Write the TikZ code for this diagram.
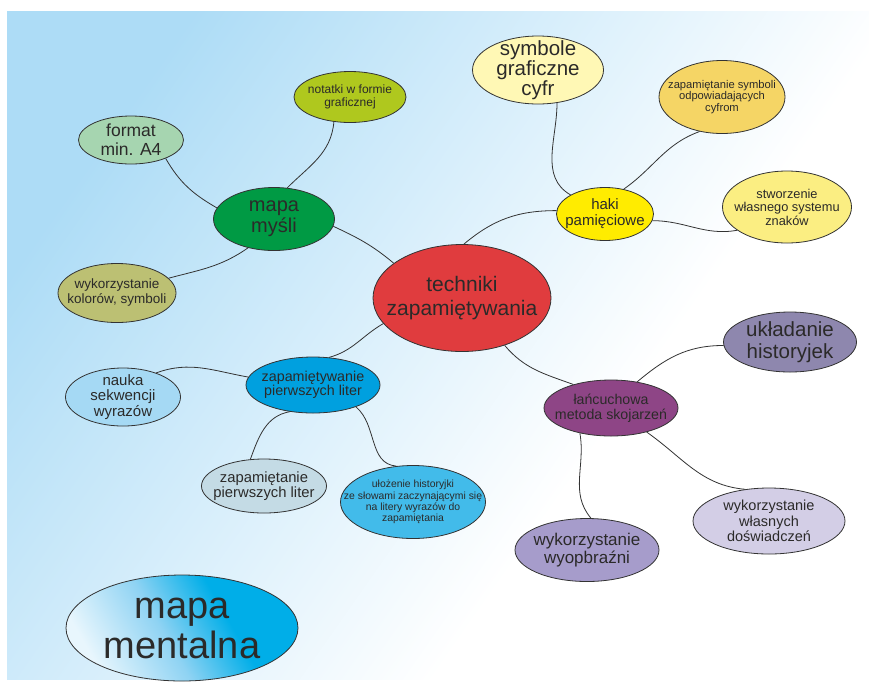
\documentclass[tikz,border=0pt]{standalone}
\usepackage{fontspec}
\setmainfont{Liberation Sans}
\usepackage{xcolor}
\usetikzlibrary{shapes.geometric}

\newcommand{\fsz}[2]{\fontsize{#1}{#2}\selectfont}

\definecolor{bgBlue}{HTML}{ADDCF6}
\definecolor{bgMid}{HTML}{E0F2FC}
\definecolor{lineGray}{HTML}{333333}
\definecolor{txtGray}{HTML}{2B2A29}
\definecolor{cMysli}{HTML}{009A44}
\definecolor{cFormat}{HTML}{A6D5B0}
\definecolor{cNotatki}{HTML}{AFC81E}
\definecolor{cKolory}{HTML}{BCC073}
\definecolor{cTechniki}{HTML}{E03C3E}
\definecolor{cSymbole}{HTML}{FFF8B5}
\definecolor{cZapSym}{HTML}{F5D565}
\definecolor{cHaki}{HTML}{FFEC00}
\definecolor{cStworz}{HTML}{FBEE82}
\definecolor{cUklad}{HTML}{8E87AE}
\definecolor{cLancuch}{HTML}{8E4586}
\definecolor{cWyobraz}{HTML}{A69CCB}
\definecolor{cDoswiad}{HTML}{D3CEE6}
\definecolor{cZapam}{HTML}{00A0DF}
\definecolor{cNauka}{HTML}{A5D9F4}
\definecolor{cZapPierw}{HTML}{C4DBE5}
\definecolor{cUlozenie}{HTML}{42BBEA}
\definecolor{cMental}{HTML}{00AEE8}
\definecolor{cMentalMid}{HTML}{8FD3F3}
\definecolor{cMentalLow}{HTML}{E8F6FD}

% background and title fades
\pgfdeclareverticalshading{bgfade}{100bp}{color(0bp)=(white); color(25bp)=(white); color(38bp)=(white); color(52bp)=(bgMid); color(75bp)=(bgBlue); color(100bp)=(bgBlue)}
\pgfdeclareverticalshading{mentalfade}{100bp}{color(0bp)=(cMentalLow); color(25bp)=(cMentalLow); color(45bp)=(cMentalMid); color(62bp)=(cMental); color(100bp)=(cMental)}

\tikzset{
  bubble/.style={draw=lineGray, line width=0.8pt, ellipse, inner sep=0pt},
  link/.style={draw=lineGray, line width=0.8pt},
  every label/.style={align=center, text=txtGray, inner sep=0pt},
}

\begin{document}
\begin{tikzpicture}[x=1pt, y=-1pt]
    \useasboundingbox (0,0) rectangle (869,686);
    % background
    \shade[shading=bgfade, shading angle=55] (7,11) rectangle (869,679);

    % centre
    \node[bubble, fill=cTechniki, minimum width=178, minimum height=107,
          label={[font=\fsz{21}{24}]center:{techniki\\zapamiętywania}}] (techniki) at (462,298) {};

    % mapa mysli branch
    \node[bubble, fill=cMysli, minimum width=121, minimum height=63,
          label={[font=\fsz{20}{21}]center:{mapa\\myśli}}] (mysli) at (274,219) {};
    \node[bubble, fill=cFormat, minimum width=105, minimum height=48,
          label={[font=\fsz{17.5}{19}]center:{format\\min. A4}}] (format) at (131,140) {};
    \node[bubble, fill=cNotatki, minimum width=112, minimum height=51,
          label={[font=\fsz{12}{13.5}]center:{notatki w formie\\graficznej}}] (notatki) at (350,97) {};
    \node[bubble, fill=cKolory, minimum width=118, minimum height=59,
          label={[font=\fsz{13.5}{15}]center:{wykorzystanie\\kolorów, symboli}}] (kolory) at (117,293) {};

    % haki branch
    \node[bubble, fill=cHaki, minimum width=97, minimum height=53,
          label={[font=\fsz{15}{16}]center:{haki\\pamięciowe}}] (haki) at (605,214) {};
    \node[bubble, fill=cSymbole, minimum width=131, minimum height=68,
          label={[font=\fsz{20.5}{17.5}]center:{symbole\\graficzne\\cyfr}}] (symbole) at (538,70) {};
    \node[bubble, fill=cZapSym, minimum width=126, minimum height=73,
          label={[font=\fsz{11.2}{11.5}]center:{zapamiętanie symboli\\odpowiadających\\cyfrom}}] (zapsym) at (722,97) {};
    \node[bubble, fill=cStworz, minimum width=129, minimum height=72,
          label={[font=\fsz{12.8}{13.5}]center:{stworzenie\\własnego systemu\\znaków}}] (stworz) at (787,207) {};

    % lancuchowa branch
    \node[bubble, fill=cLancuch, minimum width=134, minimum height=56,
          label={[font=\fsz{14.2}{15}]center:{łańcuchowa\\metoda skojarzeń}}] (lancuch) at (611,408) {};
    \node[bubble, fill=cUklad, minimum width=133, minimum height=60,
          label={[font=\fsz{20.5}{22}]center:{układanie\\historyjek}}] (uklad) at (790,342) {};
    \node[bubble, fill=cWyobraz, minimum width=144, minimum height=63,
          label={[font=\fsz{17}{18}]center:{wykorzystanie\\wyopbraźni}}] (wyobraz) at (587,550) {};
    \node[bubble, fill=cDoswiad, minimum width=152, minimum height=66,
          label={[font=\fsz{14.5}{15.5}]center:{wykorzystanie\\własnych\\doświadczeń}}] (doswiad) at (769,521) {};

    % pierwsze litery branch
    \node[bubble, fill=cZapam, minimum width=134, minimum height=56,
          label={[font=\fsz{14.3}{14.5}]center:{zapamiętywanie\\pierwszych liter}}] (zapam) at (313,385) {};
    \node[bubble, fill=cNauka, minimum width=115, minimum height=58,
          label={[font=\fsz{15}{15.5}]center:{nauka\\sekwencji\\wyrazów}}] (nauka) at (123,397) {};
    \node[bubble, fill=cZapPierw, minimum width=125, minimum height=54,
          label={[font=\fsz{14.8}{15}]center:{zapamiętanie\\pierwszych liter}}] (zappierw) at (264,486) {};
    \node[bubble, fill=cUlozenie, minimum width=145, minimum height=73,
          label={[font=\fsz{10.4}{11.3}]center:{ułożenie historyjki\\ze słowami zaczynającymi się\\na litery wyrazów do\\zapamiętania}}] (ulozenie) at (413,502) {};

    % title
    \node[bubble, shading=mentalfade, shading angle=-60,
          minimum width=232, minimum height=106,
          label={[font=\fsz{38}{40}]center:{mapa\\mentalna}}] (mental) at (182,628) {};

    % links
    \draw[link] (format.-28) to[out=-60, in=150] (mysli.169);
    \draw[link] (mysli.67) to[out=45, in=-95] (notatki.-123);
    \draw[link] (mysli.-132) to[out=-145, in=15] (kolory.16);
    \draw[link] (mysli.-7) to[out=-25, in=140] (techniki.153);
    \draw[link] (techniki.88) to[out=40, in=180] (haki.176);
    \draw[link] (haki.151) to[out=150, in=-90] (symbole.-60);
    \draw[link] (haki.53) to[out=35, in=-160] (zapsym.-123);
    \draw[link] (haki.-8) to[out=0, in=190] (stworz.-155);
    \draw[link] (techniki.-48) to[out=-50, in=160] (lancuch.148);
    \draw[link] (lancuch.45) to[out=40, in=180] (uklad.-177);
    \draw[link] (lancuch.-141) to[out=-80, in=130] (wyobraz.83);
    \draw[link] (lancuch.-34) to[out=-35, in=175] (doswiad.127);
    \draw[link] (techniki.-162) to[out=-150, in=15] (zapam.60);
    \draw[link] (zapam.173) to[out=170, in=20] (nauka.36);
    \draw[link] (zapam.-131) to[out=-170, in=70] (zappierw.117);
    \draw[link] (zapam.-27) to[out=-40, in=175] (ulozenie.115);
\end{tikzpicture}
\end{document}
